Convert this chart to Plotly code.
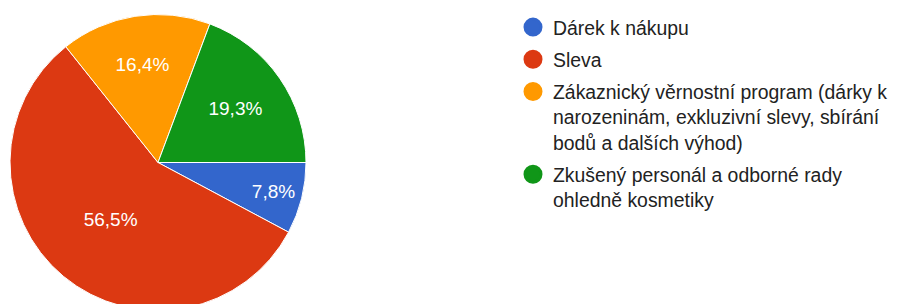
import plotly.graph_objects as go

labels = ["Dárek k nákupu", "Sleva",
          "Zákaznický věrnostní program (dárky k narozeninám, exkluzivní slevy, sbírání bodů a dalších výhod)",
          "Zkušený personál a odborné rady ohledně kosmetiky"]
legend_labels = ["Dárek k nákupu", "Sleva",
                 "Zákaznický věrnostní program (dárky k<br>narozeninám, exkluzivní slevy, sbírání<br>bodů a dalších výhod)",
                 "Zkušený personál a odborné rady<br>ohledně kosmetiky"]
values = [7.8, 56.5, 16.4, 19.3]
colors = ["#3366cc", "#dc3912", "#ff9900", "#109618"]

W, H = 897, 310
FONT = "Arial, Liberation Sans, sans-serif"

fig = go.Figure()
fig.add_trace(go.Pie(
    labels=labels, values=values, sort=False, direction="clockwise", rotation=90,
    marker=dict(colors=colors, line=dict(color="white", width=1)),
    texttemplate="%{percent:.1%}", textposition="inside",
    insidetextfont=dict(color="white", size=19, family=FONT),
    showlegend=False, hoverinfo="label+percent",
    domain=dict(x=[2 / W, 298 / W], y=[(H - 302.5) / H, (H - 6.5) / H]),
))
for i, (name, c) in enumerate(zip(legend_labels, colors)):
    fig.add_trace(go.Scatter(
        x=[None], y=[None], mode="markers", name=name, legendgroup=str(i),
        marker=dict(symbol="circle", size=16, color=c, line=dict(color=c, width=3)),
    ))

fig.update_layout(
    width=W, height=H, autosize=False,
    margin=dict(l=0, r=0, t=0, b=0, autoexpand=False),
    paper_bgcolor="white", plot_bgcolor="white",
    separators=", ",
    xaxis=dict(visible=False), yaxis=dict(visible=False),
    legend=dict(x=505 / W, xanchor="left", y=1, yanchor="top",
                font=dict(family=FONT, size=19.4, color="#222222"),
                valign="top", tracegroupgap=4, itemsizing="trace",
                bgcolor="rgba(0,0,0,0)"),
)
fig.write_html("out.html")
